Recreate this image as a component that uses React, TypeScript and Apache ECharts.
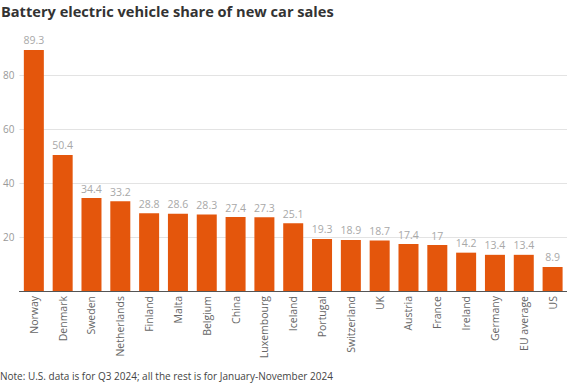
import React, { useEffect, useRef } from "react";
import * as echarts from "echarts";

const categories = [
  "Norway", "Denmark", "Sweden", "Netherlands", "Finland", "Malta", "Belgium",
  "China", "Luxembourg", "Iceland", "Portugal", "Switzerland", "UK", "Austria",
  "France", "Ireland", "Germany", "EU average", "US",
];
const shares = [
  89.3, 50.4, 34.4, 33.2, 28.8, 28.6, 28.3, 27.4, 27.3, 25.1, 19.3, 18.9, 18.7,
  17.4, 17, 14.2, 13.4, 13.4, 8.9,
];
const yTicks = [0, 20, 40, 60, 80, 100];

const titleText = "Battery electric vehicle share of new car sales";
const noteText = "Note: U.S. data is for Q3 2024; all the rest is for January-November 2024";

export default function App() {
  const ref = useRef<HTMLDivElement>(null);
  useEffect(() => {
    if (!ref.current) return;
    const chart = echarts.init(ref.current, undefined, { renderer: "svg" });
    const font = "'Open Sans', sans-serif";
    chart.setOption({
      animation: false,
      textStyle: { fontFamily: font },
      title: [
        {
          text: titleText,
          left: 1,
          top: 3,
          padding: 0,
          textStyle: { fontSize: 14.6, fontWeight: "bold", color: "#333", fontFamily: font },
        },
        {
          text: noteText,
          left: 0,
          top: 371,
          padding: 0,
          textStyle: { fontSize: 10, fontWeight: "normal", color: "#444", fontFamily: font },
        },
      ],
      grid: { left: 18, right: 0, top: 21, bottom: 99, containLabel: false },
      xAxis: {
        type: "category",
        data: categories,
        axisLine: { show: true, lineStyle: { color: "#555", width: 1 } },
        axisTick: { show: false },
        axisLabel: {
          rotate: 90,
          interval: 0,
          color: "#666",
          fontSize: 10.5,
          margin: 5,
          fontFamily: font,
        },
      },
      yAxis: {
        type: "value",
        min: yTicks[0],
        max: yTicks[yTicks.length - 1],
        interval: 20,
        axisLine: { show: false },
        axisTick: { show: false },
        axisLabel: {
          color: "#999",
          fontSize: 10,
          margin: 5,
          fontFamily: font,
          formatter: (v: number) => (v === 0 || v === 100 ? "" : String(v)),
        },
        splitLine: {
          show: true,
          lineStyle: {
            color: ["#e3e3e3", "#e3e3e3", "#e3e3e3", "#e3e3e3", "#e3e3e3", "rgba(0,0,0,0)"],
            width: 1,
          },
        },
      },
      series: [
        {
          type: "bar",
          data: shares,
          barWidth: 20,
          itemStyle: { color: "#E4560C" },
          label: {
            show: true,
            position: "top",
            distance: 4,
            color: "#a8a8a8",
            fontSize: 10.5,
            fontFamily: font,
          },
        },
      ],
    });
    return () => chart.dispose();
  }, []);
  return <div ref={ref} style={{ width: 567, height: 390, position: "absolute", left: 0, top: 0 }} />;
}
